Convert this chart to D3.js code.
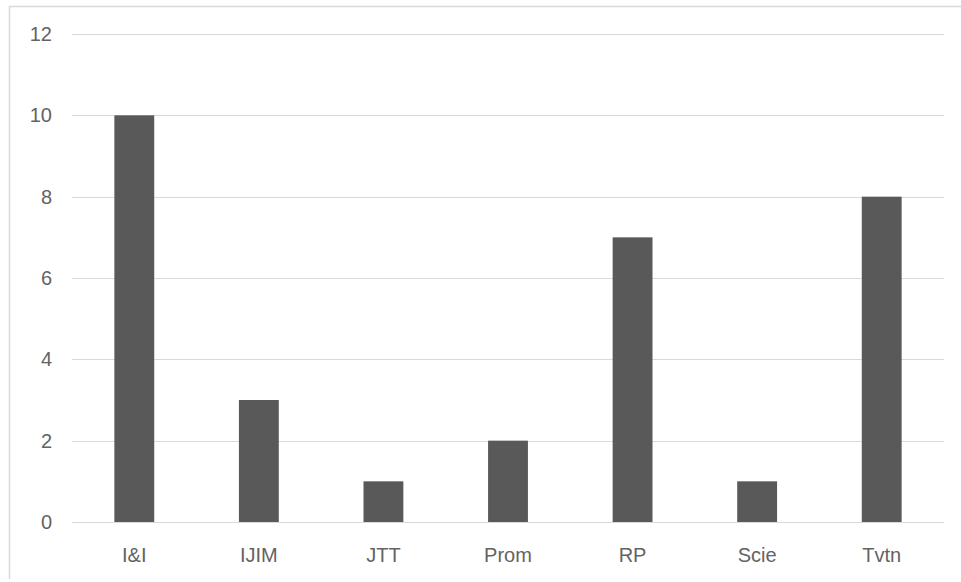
<!DOCTYPE html>
<html>
<head>
    <meta charset="utf-8">
    <title>Bar chart</title>
    <script src="https://cdn.jsdelivr.net/npm/d3@7/dist/d3.min.js"></script>
    <style>
        body { margin: 0; background: #ffffff; }
    </style>
</head>
<body>
    <script>
        var w = 961;
        var h = 582;
        var categories = ["I&I", "IJIM", "JTT", "Prom", "RP", "Scie", "Tvtn"];
        var values = [10, 3, 1, 2, 7, 1, 8];
        var yTicks = [0, 2, 4, 6, 8, 10, 12];

        var margin = {left: 72, right: 17, top: 34, bottom: 60};
        var labelFont = "'Liberation Sans', Arial, sans-serif";

        var svg = d3.select("body").append("svg")
                    .attr("width", w)
                    .attr("height", h);

        // chart frame (only top and left edges show in the picture)
        svg.append("path")
            .attr("d", "M9.5," + (h - 3) + "V6.5H" + w)
            .attr("fill", "none")
            .attr("stroke", "#d9d9d9")
            .attr("stroke-width", 1.5);

        var x = d3.scaleBand()
            .domain(categories)
            .range([margin.left, w - margin.right])
            .paddingInner(0.68)
            .paddingOuter(0.34);

        var y = d3.scaleLinear()
            .domain([0, 12])
            .range([h - margin.bottom, margin.top]);

        // gridlines
        svg.append("g")
            .selectAll("line")
            .data(yTicks)
            .enter()
            .append("line")
            .attr("x1", margin.left)
            .attr("x2", w - margin.right)
            .attr("y1", function(d) { return Math.round(y(d)) + 0.5; })
            .attr("y2", function(d) { return Math.round(y(d)) + 0.5; })
            .attr("stroke", "#d9d9d9")
            .attr("stroke-width", 1);

        // bars
        svg.append("g")
            .selectAll("rect")
            .data(values)
            .enter()
            .append("rect")
            .attr("x", function(d, i) { return x(categories[i]); })
            .attr("y", function(d) { return y(d); })
            .attr("width", x.bandwidth())
            .attr("height", function(d) { return y(0) - y(d); })
            .attr("fill", "#595959");

        // y axis labels
        var yAxis = d3.axisLeft(y).tickValues(yTicks).tickSize(0).tickPadding(0);
        var gy = svg.append("g")
            .attr("transform", "translate(52,0)")
            .call(yAxis);
        gy.select(".domain").remove();
        gy.selectAll("text")
            .attr("font-family", labelFont)
            .attr("font-size", 20)
            .attr("fill", "#636363");

        // x axis labels
        var xAxis = d3.axisBottom(x).tickSize(0).tickPadding(0);
        var gx = svg.append("g")
            .attr("transform", "translate(0," + (h - margin.bottom) + ")")
            .call(xAxis);
        gx.select(".domain").remove();
        gx.selectAll("text")
            .attr("dy", null)
            .attr("y", 40)
            .attr("font-family", labelFont)
            .attr("font-size", 20)
            .attr("fill", "#636363");
    </script>
</body>
</html>
